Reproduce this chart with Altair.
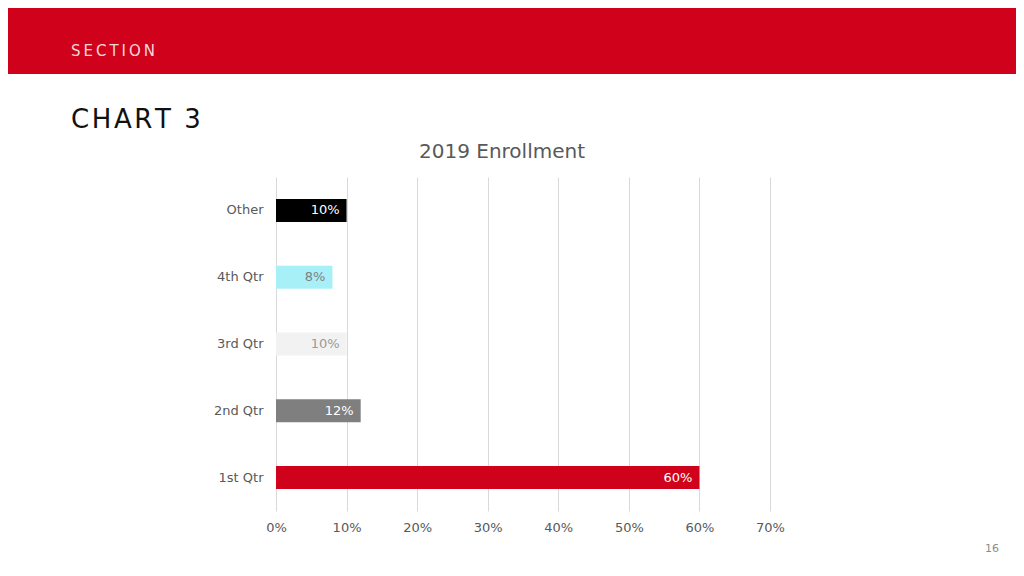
import altair as alt
import pandas as pd

categories = ["Other", "4th Qtr", "3rd Qtr", "2nd Qtr", "1st Qtr"]
values = [0.10, 0.08, 0.10, 0.12, 0.60]
bar_colors = ["#000000", "#A8F0F8", "#F2F2F2", "#7F7F7F", "#D0021B"]
label_colors = ["#FFFFFF", "#7F7F7F", "#9A9A9A", "#FFFFFF", "#FFFFFF"]
tick_values = [0, 0.1, 0.2, 0.3, 0.4, 0.5, 0.6, 0.7]

title_text = "2019 Enrollment"
section_text = "SECTION"
heading_text = "CHART 3"
page_text = "16"

FONT = "DejaVu Sans"


def spaced(s, n):
    return ("\u200a" * n).join(list(s))


df = pd.DataFrame({"cat": categories, "val": values,
                   "bc": bar_colors, "lc": label_colors})

W, H = 494, 334
PL, PT, PR, PB = 268, 169, 246, 57

y_enc = alt.Y("cat:N", sort=categories,
              scale=alt.Scale(paddingInner=0.655, paddingOuter=0.3275),
              axis=alt.Axis(title=None, domain=False, ticks=False, labelPadding=13,
                            labelFont=FONT, labelFontSize=13, labelColor="#595959"))
x_enc = alt.X("val:Q", scale=alt.Scale(domain=[0, 0.7], nice=False),
              axis=alt.Axis(title=None, values=tick_values, format=".0%", domain=False,
                            ticks=False, grid=True, gridColor="#D9D9D9", labelPadding=10,
                            labelFlush=False,
                            labelFont=FONT, labelFontSize=13, labelColor="#595959"))

bars = alt.Chart(df).mark_bar().encode(
    x=x_enc, y=y_enc,
    color=alt.Color("bc:N", scale=None, legend=None),
)
labels = alt.Chart(df).mark_text(align="right", baseline="middle", dx=-7,
                                 font=FONT, fontSize=13).encode(
    x="val:Q", y=alt.Y("cat:N", sort=categories),
    text=alt.Text("val:Q", format=".0%"),
    color=alt.Color("lc:N", scale=None, legend=None),
)

one = pd.DataFrame({"t": [section_text]})
banner = alt.Chart(one).mark_rect(color="#D0021B").encode(
    x=alt.value(-PL), x2=alt.value(W + PR), y=alt.value(-PT), y2=alt.value(-103))
section = alt.Chart(pd.DataFrame({"t": [spaced(section_text, 2)]})).mark_text(
    align="left", baseline="middle", font=FONT, fontSize=15, color="#F7D6DA").encode(
    x=alt.value(-205), y=alt.value(-126), text="t:N")
heading = alt.Chart(pd.DataFrame({"t": [spaced(heading_text, 1)]})).mark_text(
    align="left", baseline="middle", font=FONT, fontSize=26, color="#111111").encode(
    x=alt.value(-205), y=alt.value(-57), text="t:N")
title = alt.Chart(pd.DataFrame({"t": [title_text]})).mark_text(
    align="center", baseline="middle", font=FONT, fontSize=20, color="#595959").encode(
    x=alt.value(226), y=alt.value(-25), text="t:N")
page = alt.Chart(pd.DataFrame({"t": [page_text]})).mark_text(
    align="center", baseline="middle", font=FONT, fontSize=11, color="#8C8C8C").encode(
    x=alt.value(716), y=alt.value(372), text="t:N")

chart = alt.layer(banner, section, heading, title, page, bars, labels).properties(
    width=W, height=H,
    autosize=alt.AutoSizeParams(type="none"),
    padding={"left": PL, "top": PT, "right": PR, "bottom": PB},
    background="white",
).configure_view(stroke=None)

chart.save("out.html", embed_options={"renderer": "svg", "actions": False})
